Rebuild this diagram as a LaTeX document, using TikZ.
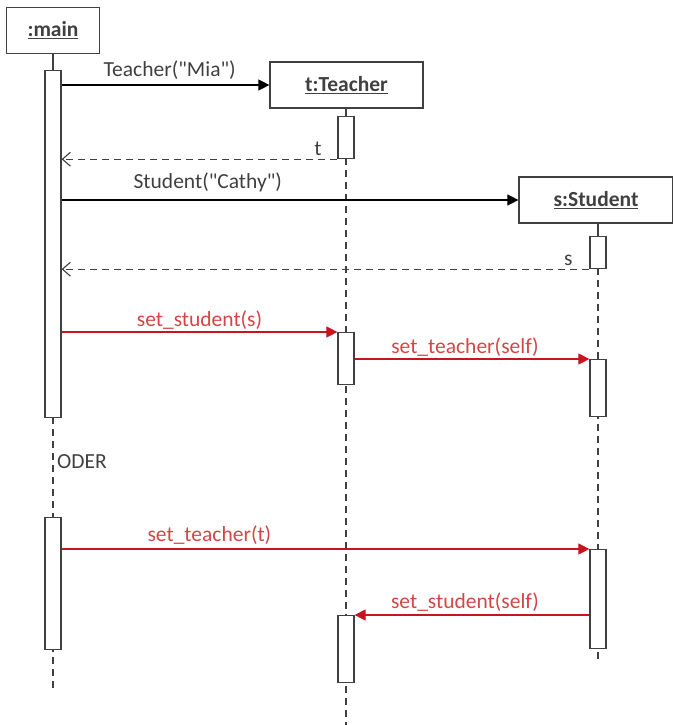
\documentclass[tikz,border=0pt]{standalone}
\usepackage{fontspec}
\setmainfont{Carlito}[Ligatures=TeXOff]
\usetikzlibrary{positioning,calc,arrows.meta}
\definecolor{umlgray}{RGB}{64,64,64}
\definecolor{umlred}{RGB}{200,20,30}
\definecolor{umlredtext}{RGB}{210,70,70}

\begin{document}
\begin{tikzpicture}[x=1pt, y=-1pt, font=\fontsize{21.5}{25}\selectfont, text=umlgray,
    obj/.style={draw=umlgray, line width=1.2pt, fill=white, minimum height=46pt, font=\bfseries\fontsize{21.5}{25}\selectfont},
    act/.style={draw=umlgray, line width=1.2pt, fill=white, minimum width=16pt, inner sep=0pt, anchor=north},
    life/.style={draw=umlgray, line width=1.1pt, dash pattern=on 7pt off 5pt},
    call/.style={draw=black, line width=1.1pt, -{Triangle[length=11pt,width=11pt]}},
    redcall/.style={draw=umlred, line width=1.1pt, -{Triangle[length=11pt,width=11pt]}},
    ret/.style={draw=umlgray, line width=1.1pt, dash pattern=on 7pt off 5pt, -{Straight Barb[length=8pt,width=14pt]}},
    lbl/.style={inner sep=1pt},
    redlbl/.style={text=umlredtext, inner sep=1pt}]
    \useasboundingbox (0,0) rectangle (672,725);

    % Objects
    \node[obj, minimum width=93pt] (main) at (53,30.5) {\underline{:main}};
    \node[obj, minimum width=153pt] (teach) at (346.5,85) {\underline{t:Teacher}};
    \node[obj, minimum width=154pt] (stud) at (596,200) {\underline{s:Student}};

    % Lifeline ends
    \coordinate (mainEnd) at (53,690);
    \coordinate (teachEnd) at (346,725);
    \coordinate (studEnd) at (598,662);

    % Lifelines
    \draw[umlgray, line width=1.1pt] (main.south) -- (53,70);
    \draw[umlgray, line width=1.1pt] (346,108) -- (346,116);
    \draw[umlgray, line width=1.1pt] (598,224) -- (598,236);
    \draw[life] (53,417) -- (mainEnd);
    \draw[life] (346,158) -- (teachEnd);
    \draw[life] (598,268) -- (studEnd);

    % Activation bars
    \node[act, minimum height=347pt] (mainA1) at (53,70) {};
    \node[act, minimum height=42pt] (teachA1) at (346,116) {};
    \node[act, minimum height=32pt] (studA1) at (598,236) {};
    \node[act, minimum height=52pt] (teachA2) at (346,332) {};
    \node[act, minimum height=57pt] (studA2) at (598,359) {};
    \node[act, minimum height=132pt] (mainA2) at (53,517) {};
    \node[act, minimum height=99pt] (studA3) at (598,549) {};
    \node[act, minimum height=67pt] (teachA3) at (346,615) {};

    % Messages
    \draw[call] (mainA1.east |- teach.west) -- node[lbl, above=4pt, pos=0.52] {Teacher("Mia")} (teach.west);
    \draw[ret] (teachA1.south west) -- node[lbl, above=2pt, pos=0.07] {t} (mainA1.east |- teachA1.south);
    \draw[call] (mainA1.east |- stud.west) -- node[lbl, above=6pt, pos=0.32] {Student("Cathy")} (stud.west);
    \draw[ret] (studA1.south west) -- node[lbl, above=2pt, pos=0.04] {s} (mainA1.east |- studA1.south);
    \draw[redcall] (mainA1.east |- teachA2.north) -- node[redlbl, above=1pt] {set\_student(s)} (teachA2.north west);
    \draw[redcall] (teachA2.east |- studA2.north) -- node[redlbl, above=1pt, pos=0.47] {set\_teacher(self)} (studA2.north west);
    \node[lbl, anchor=west] (oder) at (56,462) {ODER};
    \draw[redcall] (mainA2.east |- studA3.north) -- node[redlbl, above=3pt, pos=0.28] {set\_teacher(t)} (studA3.north west);
    \draw[redcall] (studA3.west |- teachA3.north) -- node[redlbl, above=2pt, pos=0.53] {set\_student(self)} (teachA3.north east);

\end{tikzpicture}
\end{document}
